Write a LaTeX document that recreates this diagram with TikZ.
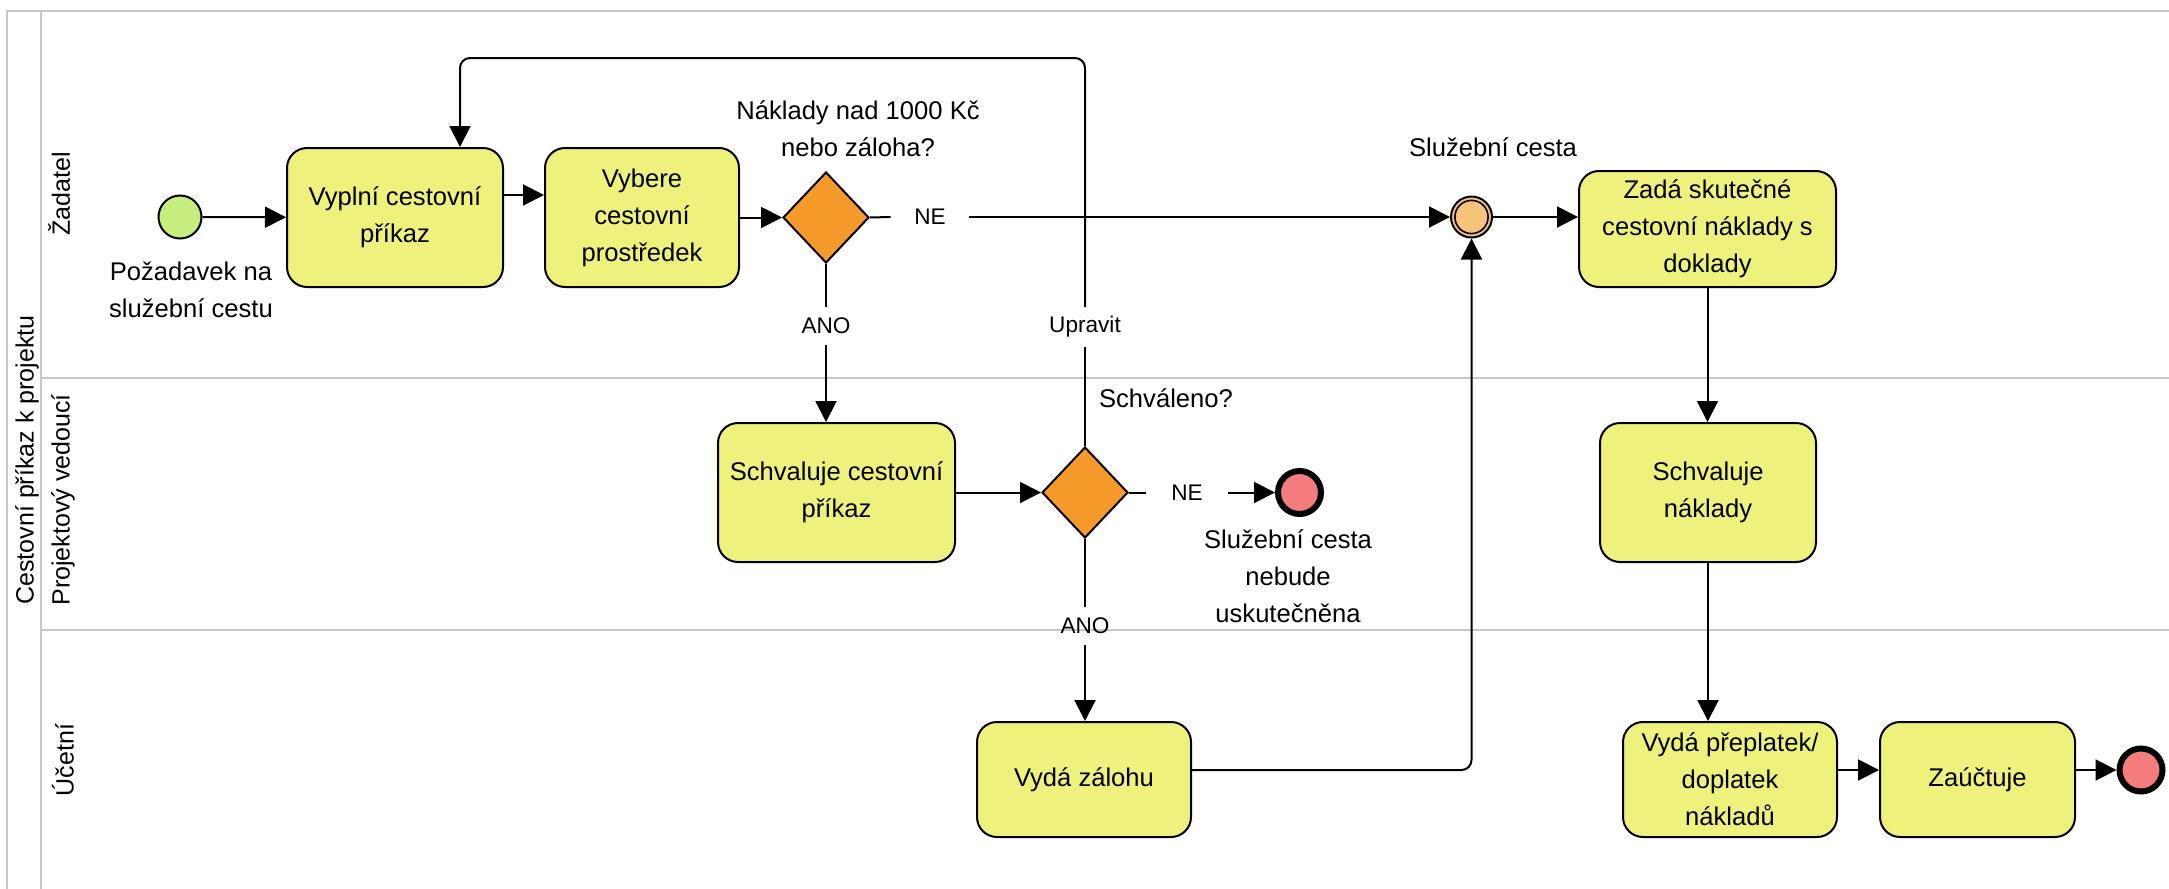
\documentclass[tikz,border=0pt]{standalone}
\usepackage{fontspec}
\setmainfont{Liberation Sans}
\usetikzlibrary{arrows.meta,shapes.geometric,calc}
\definecolor{taskfill}{HTML}{EEF27C}
\definecolor{gwfill}{HTML}{F79A2C}
\definecolor{startfill}{HTML}{C6EE7E}
\definecolor{interfill}{HTML}{F5C37B}
\definecolor{endfill}{HTML}{F47C7C}
\definecolor{lanegray}{HTML}{C8C8C8}
\begin{document}
\begin{tikzpicture}[x=0.5pt,y=-0.5pt,
  task/.style={draw, line width=1pt, fill=taskfill, rounded corners=10pt,
    align=center, inner sep=2pt, font=\fontsize{12.8pt}{18.5pt}\selectfont},
  gate/.style={diamond, draw, line width=1pt, fill=gwfill,
    minimum width=43pt, minimum height=45.5pt, inner sep=0pt},
  startev/.style={circle, draw, line width=1pt, fill=startfill,
    minimum size=21.5pt, inner sep=0pt},
  interev/.style={circle, draw, line width=1pt, fill=interfill,
    minimum size=20.5pt, inner sep=0pt},
  endev/.style={circle, draw, line width=3pt, fill=endfill,
    minimum size=21.5pt, inner sep=0pt},
  flow/.style={line width=1pt, -{Triangle[length=10.5pt,width=10.5pt]}},
  conn/.style={line width=1pt},
  edgelbl/.style={inner sep=0pt, font=\fontsize{11.3pt}{13pt}\selectfont},
  evlbl/.style={align=center, inner sep=0pt, font=\fontsize{12.8pt}{18.5pt}\selectfont},
  laneline/.style={draw=lanegray, line width=1pt},
  lanelbl/.style={rotate=90, inner sep=0pt, font=\fontsize{12.5pt}{15pt}\selectfont}
]
\useasboundingbox (0,0) rectangle (2169,889);

% pool and lanes
\draw[laneline] (7,889) -- (7,11) -- (2169,11);
\draw[laneline] (41,11) -- (41,889);
\draw[laneline] (41,378) -- (2169,378);
\draw[laneline] (41,630) -- (2169,630);
\node[lanelbl] (pool) at (27,460) {Cestovní příkaz k projektu};
\node[lanelbl] (lane1) at (59,194) {Žadatel};
\node[lanelbl] (lane2) at (63,500) {Projektový vedoucí};
\node[lanelbl] (lane3) at (63,760) {Účetní};

% events
\node[startev] (start) at (180,217) {};
\node[interev] (ev2) at (1471.5,217) {};
\draw[line width=0.8pt] (ev2.center) circle [radius=8.3pt];
\node[endev] (end1) at (1299.5,492.5) {};
\node[endev] (end2) at (2141,770) {};

% tasks
\node[task, minimum width=108pt, minimum height=69.5pt] (t1) at (395,217.5) {Vyplní cestovní\\příkaz};
\node[task, minimum width=97pt, minimum height=69.5pt] (t2) at (642,217.5) {Vybere\\cestovní\\prostředek};
\node[task, minimum width=128.5pt, minimum height=58pt] (t3) at (1707.5,229) {Zadá skutečné\\cestovní náklady s\\doklady};
\node[task, minimum width=108pt, minimum height=69.5pt] (t4) at (1708,492.5) {Schvaluje\\náklady};
\node[task, minimum width=107pt, minimum height=57.5pt] (t5) at (1730,779.5) {Vydá přeplatek/\\doplatek\\nákladů};
\node[task, minimum width=97.5pt, minimum height=57.5pt] (t6) at (1977.5,779.5) {Zaúčtuje};
\node[task, minimum width=118.5pt, minimum height=69.5pt] (t7) at (836.5,492.5) {Schvaluje cestovní\\příkaz};
\node[task, minimum width=107pt, minimum height=57.5pt] (t8) at (1084,779.5) {Vydá zálohu};

% gateways
\node[gate] (gw1) at (826,217.5) {};
\node[gate] (gw2) at (1085,492.5) {};

% element labels
\node[evlbl] (lstart) at (191,290) {Požadavek na\\služební cestu};
\node[evlbl] (lgw1) at (858,129) {Náklady nad 1000 Kč\\nebo záloha?};
\node[evlbl] (lev2) at (1493,147) {Služební cesta};
\node[evlbl] (lgw2) at (1166,398) {Schváleno?};
\node[evlbl] (lend1) at (1288,576) {Služební cesta\\nebude\\uskutečněna};

% flow labels
\node[edgelbl, minimum width=39pt] (ne1) at (930,217) {NE};
\node[edgelbl, minimum height=19pt] (ano1) at (826,326) {ANO};
\node[edgelbl, minimum height=19.5pt] (upr) at (1085,327) {Upravit};
\node[edgelbl, minimum width=40.5pt] (ne2) at (1187,492.5) {NE};
\node[edgelbl, minimum height=19pt] (ano2) at (1085,626) {ANO};

\coordinate (loopR) at (1085,58);
\coordinate (loopL) at (460,58);

% sequence flows
\draw[flow] (start) -- (t1);
\draw[flow] ([yshift=11.25pt]t1.east) -- ([yshift=11.25pt]t2.west);
\draw[flow] (t2.east) -- (gw1.west);
\draw[conn] (gw1.east) -- (ne1.west);
\draw[flow] (ne1.east) -- (ev2.west);
\draw[flow] (ev2.east) -- (ev2.east -| t3.west);
\draw[flow] (t3.south) -- (t3.south |- t4.north);
\draw[flow] (t4.south) -- (t4.south |- t5.north);
\draw[flow] ([yshift=4.75pt]t5.east) -- ([yshift=4.75pt]t5.east -| t6.west);
\draw[flow] ([yshift=4.75pt]t6.east) -- (end2.west);
\draw[conn] (gw1.south) -- (ano1.north);
\draw[flow] (ano1.south) -- (ano1.south |- t7.north);
\draw[flow] (t7.east) -- (gw2.west);
\draw[conn] (gw2.east) -- (ne2.west);
\draw[flow] (ne2.east) -- (end1.west);
\draw[conn] (gw2.south) -- (ano2.north);
\draw[flow] (ano2.south) -- (ano2.south |- t8.north);
\draw[conn] (gw2.north) -- (upr.south);
\draw[flow, rounded corners=5pt] (upr.north) -- (loopR) -- (loopL) -- (loopL |- t1.north);
\draw[flow, rounded corners=5pt] ([yshift=4.75pt]t8.east) -| (ev2.south);
\end{tikzpicture}
\end{document}
